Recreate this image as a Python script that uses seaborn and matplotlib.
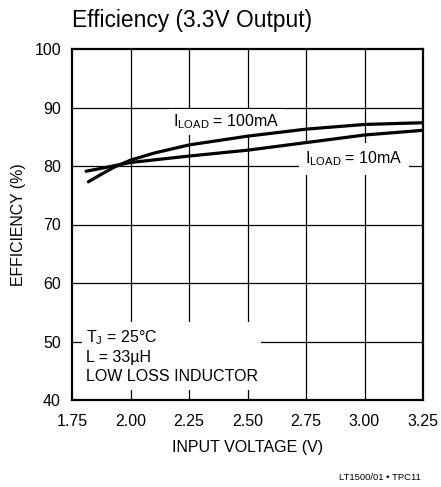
import matplotlib
matplotlib.use("Agg")
import matplotlib.pyplot as plt
from matplotlib import font_manager
from matplotlib.patches import Rectangle
import pandas as pd
import seaborn as sns

# values
vin_100ma = [1.82, 1.88, 1.93, 2.00, 2.10, 2.25, 2.50, 2.75, 3.00, 3.25]
eff_100ma = [77.3, 78.7, 79.8, 81.0, 82.2, 83.6, 85.1, 86.3, 87.1, 87.4]
vin_10ma = [1.81, 1.90, 2.00, 2.25, 2.50, 2.75, 3.00, 3.25]
eff_10ma = [79.1, 79.8, 80.6, 81.7, 82.7, 84.0, 85.3, 86.1]
x_ticks = [1.75, 2.00, 2.25, 2.50, 2.75, 3.00, 3.25]
y_ticks = [40, 50, 60, 70, 80, 90, 100]

df = pd.concat([
    pd.DataFrame({"vin": vin_100ma, "eff": eff_100ma, "load": "100mA"}),
    pd.DataFrame({"vin": vin_10ma, "eff": eff_10ma, "load": "10mA"}),
])

sns.set_theme(style="white")
names = {f.name for f in font_manager.fontManager.ttflist}
fam = "Liberation Sans Narrow" if "Liberation Sans Narrow" in names else "Liberation Sans"
plt.rcParams["font.family"] = [fam, "DejaVu Sans"]
plt.rcParams["mathtext.fontset"] = "custom"
plt.rcParams["mathtext.rm"] = fam
plt.rcParams["text.color"] = "black"
plt.rcParams["axes.labelcolor"] = "black"

fig = plt.figure(figsize=(4.41, 4.87), dpi=100)
ax = fig.add_axes([72 / 441, 87 / 487, 351 / 441, 351 / 487])

for yv in y_ticks[1:-1]:
    ax.axhline(yv, color="black", lw=0.9, zorder=1)
for xv in x_ticks[1:-1]:
    ax.axvline(xv, color="black", lw=0.9, zorder=1)

sns.lineplot(data=df, x="vin", y="eff", units="load", estimator=None,
             color="black", lw=2.3, ax=ax, zorder=3, legend=False)

ax.set_xlim(1.75, 3.25)
ax.set_ylim(40, 100)
ax.set_xticks(x_ticks)
ax.set_xticklabels([f"{v:.2f}" for v in x_ticks])
ax.set_yticks(y_ticks)
ax.tick_params(axis="both", direction="in", length=0, labelsize=11.5,
               colors="black")
ax.tick_params(axis="x", pad=10)
ax.tick_params(axis="y", pad=8)
for s in ax.spines.values():
    s.set_color("black")
    s.set_linewidth(1.6)
    s.set_zorder(5)

ax.set_xlabel("INPUT VOLTAGE (V)", fontsize=11.5, labelpad=8)
ax.set_ylabel("EFFICIENCY (%)", fontsize=11.4, labelpad=6)
fig.text(72 / 441, 1 - 21 / 487, "Efficiency (3.3V Output)", fontsize=16.4,
         ha="left", va="center")

box = dict(facecolor="white", edgecolor="none", pad=2.5)
ax.text(2.41, 87.5, r"I$_{\mathrm{LOAD}}$ = 100mA", fontsize=11.5, ha="center",
        va="center", bbox=box, zorder=2)
ax.text(2.955, 81.2, r"I$_{\mathrm{LOAD}}$ = 10mA", fontsize=11.5, ha="center",
        va="center", bbox=dict(facecolor="white", edgecolor="none", pad=4.5),
        zorder=2)

# white panel behind the conditions note (grid shows as short ticks below)
ax.add_patch(Rectangle((1.793, 41.7), 0.765, 11.6, facecolor="white",
                       edgecolor="none", zorder=2))
ax.text(1.81, 47.5, "T$_{\\mathrm{J}}$ = 25°C\nL = 33µH\nLOW LOSS INDUCTOR",
        fontsize=11.5, ha="left", va="center", linespacing=1.3, zorder=3)

fig.text(1 - 20 / 441, 1 - 478 / 487, "LT1500/01 • TPC11", fontsize=6.8,
         ha="right", va="center")

fig.savefig("out.png", dpi=100)
